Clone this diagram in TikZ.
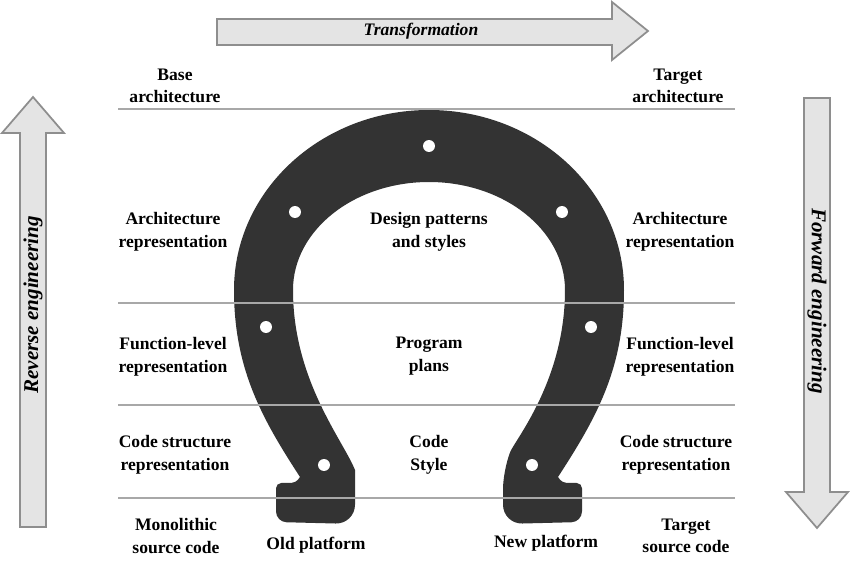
\documentclass[tikz,border=0pt]{standalone}
\usepackage{fontspec}
\setmainfont{Liberation Serif}
\usepackage{xcolor}
\usepackage{tikz}
\usetikzlibrary{positioning}
\definecolor{shoegray}{HTML}{333333}
\definecolor{linegray}{HTML}{A8A8A8}
\definecolor{arrowfill}{HTML}{E4E4E4}
\definecolor{arrowdraw}{HTML}{8E8E8E}
\tikzstyle{layer} = [align=center, inner sep=1pt, font=\fontsize{10}{12.8}\selectfont\bfseries]
\tikzstyle{arrowtext} = [inner sep=1pt, font=\fontsize{10}{12}\selectfont\bfseries\itshape]
\tikzstyle{bigarrow} = [fill=arrowfill, draw=arrowdraw, line width=1pt, line join=miter]
\tikzstyle{layerline} = [draw=linegray, line width=1.2pt]
\tikzstyle{shoe} = [fill=shoegray]
\tikzstyle{hole} = [fill=white]

\begin{document}
\begin{tikzpicture}[x=0.02cm, y=-0.02cm]
    \useasboundingbox (0,0) rectangle (850,571);

    % block arrows
    \draw [bigarrow] (217,19) -- (612,19) -- (612,2) -- (648,31) -- (612,60) -- (612,45) -- (217,45) -- cycle;
    \draw [bigarrow] (20,527) -- (20,133) -- (2,133) -- (33,97) -- (64,133) -- (46,133) -- (46,527) -- cycle;
    \draw [bigarrow] (804,98) -- (830,98) -- (830,492) -- (848,492) -- (817,528) -- (786,492) -- (804,492) -- cycle;
    \node (trans) [arrowtext] at (421,31) {Transformation};
    \node (reverse) [arrowtext, font=\fontsize{12}{14}\selectfont\bfseries\itshape, rotate=90] at (33,305) {Reverse engineering};
    \node (forward) [arrowtext, font=\fontsize{12}{14}\selectfont\bfseries\itshape, rotate=-90] at (817,301) {Forward engineering};

    % horseshoe
    \fill [shoe] (234,290) arc [start angle=180, end angle=360, x radius=195, y radius=180]
        .. controls (624,370) and (595,420) .. (558,477)
        .. controls (561,482) and (564,483) .. (570,483)
        [rounded corners=3pt] -- (582,483) [rounded corners=6pt] -- (582,522)
        [rounded corners=11pt] -- (503,524) -- (503,470) [sharp corners]
        .. controls (515,440) and (565,380) .. (565,290)
        arc [start angle=0, end angle=-180, x radius=136, y radius=108]
        .. controls (293,380) and (343,440) .. (355,470)
        [rounded corners=11pt] -- (355,524) [rounded corners=6pt] -- (276,522)
        [rounded corners=3pt] -- (276,483) [sharp corners] -- (288,483)
        .. controls (294,483) and (297,482) .. (300,477)
        .. controls (263,420) and (234,370) .. (234,290) -- cycle;
    \foreach \hx/\hy in {429/146, 295/212, 562/212, 266/327, 591/327, 324/465, 532/465}
        \fill [hole] (\hx,\hy) circle (3.4pt);

    % layer separators
    \foreach \ly in {109, 303, 405, 498}
        \draw [layerline] (118,\ly) -- (735,\ly);

    % left column
    \node (baseArch) [layer] at (175,86) {Base\\architecture};
    \node (archRepL) [layer] at (173,232) {Architecture\\representation};
    \node (funcRepL) [layer] at (173,357) {Function-level\\representation};
    \node (codeRepL) [layer] at (175,455) {Code structure\\representation};
    \node (monoSrc) [layer] at (176,536) {Monolithic\\source code};

    % middle column
    \node (designPat) [layer] at (429,232) {Design patterns\\and styles};
    \node (progPlans) [layer] at (429,356) {Program\\plans};
    \node (codeStyle) [layer] at (429,455) {Code\\Style};
    \node (oldPlat) [layer] at (316,545) {Old platform};
    \node (newPlat) [layer] at (546,543) {New platform};

    % right column
    \node (targetArch) [layer] at (678,86) {Target\\architecture};
    \node (archRepR) [layer] at (680,232) {Architecture\\representation};
    \node (funcRepR) [layer] at (680,357) {Function-level\\representation};
    \node (codeRepR) [layer] at (676,455) {Code structure\\representation};
    \node (targetSrc) [layer] at (686,536) {Target\\source code};
\end{tikzpicture}
\end{document}
